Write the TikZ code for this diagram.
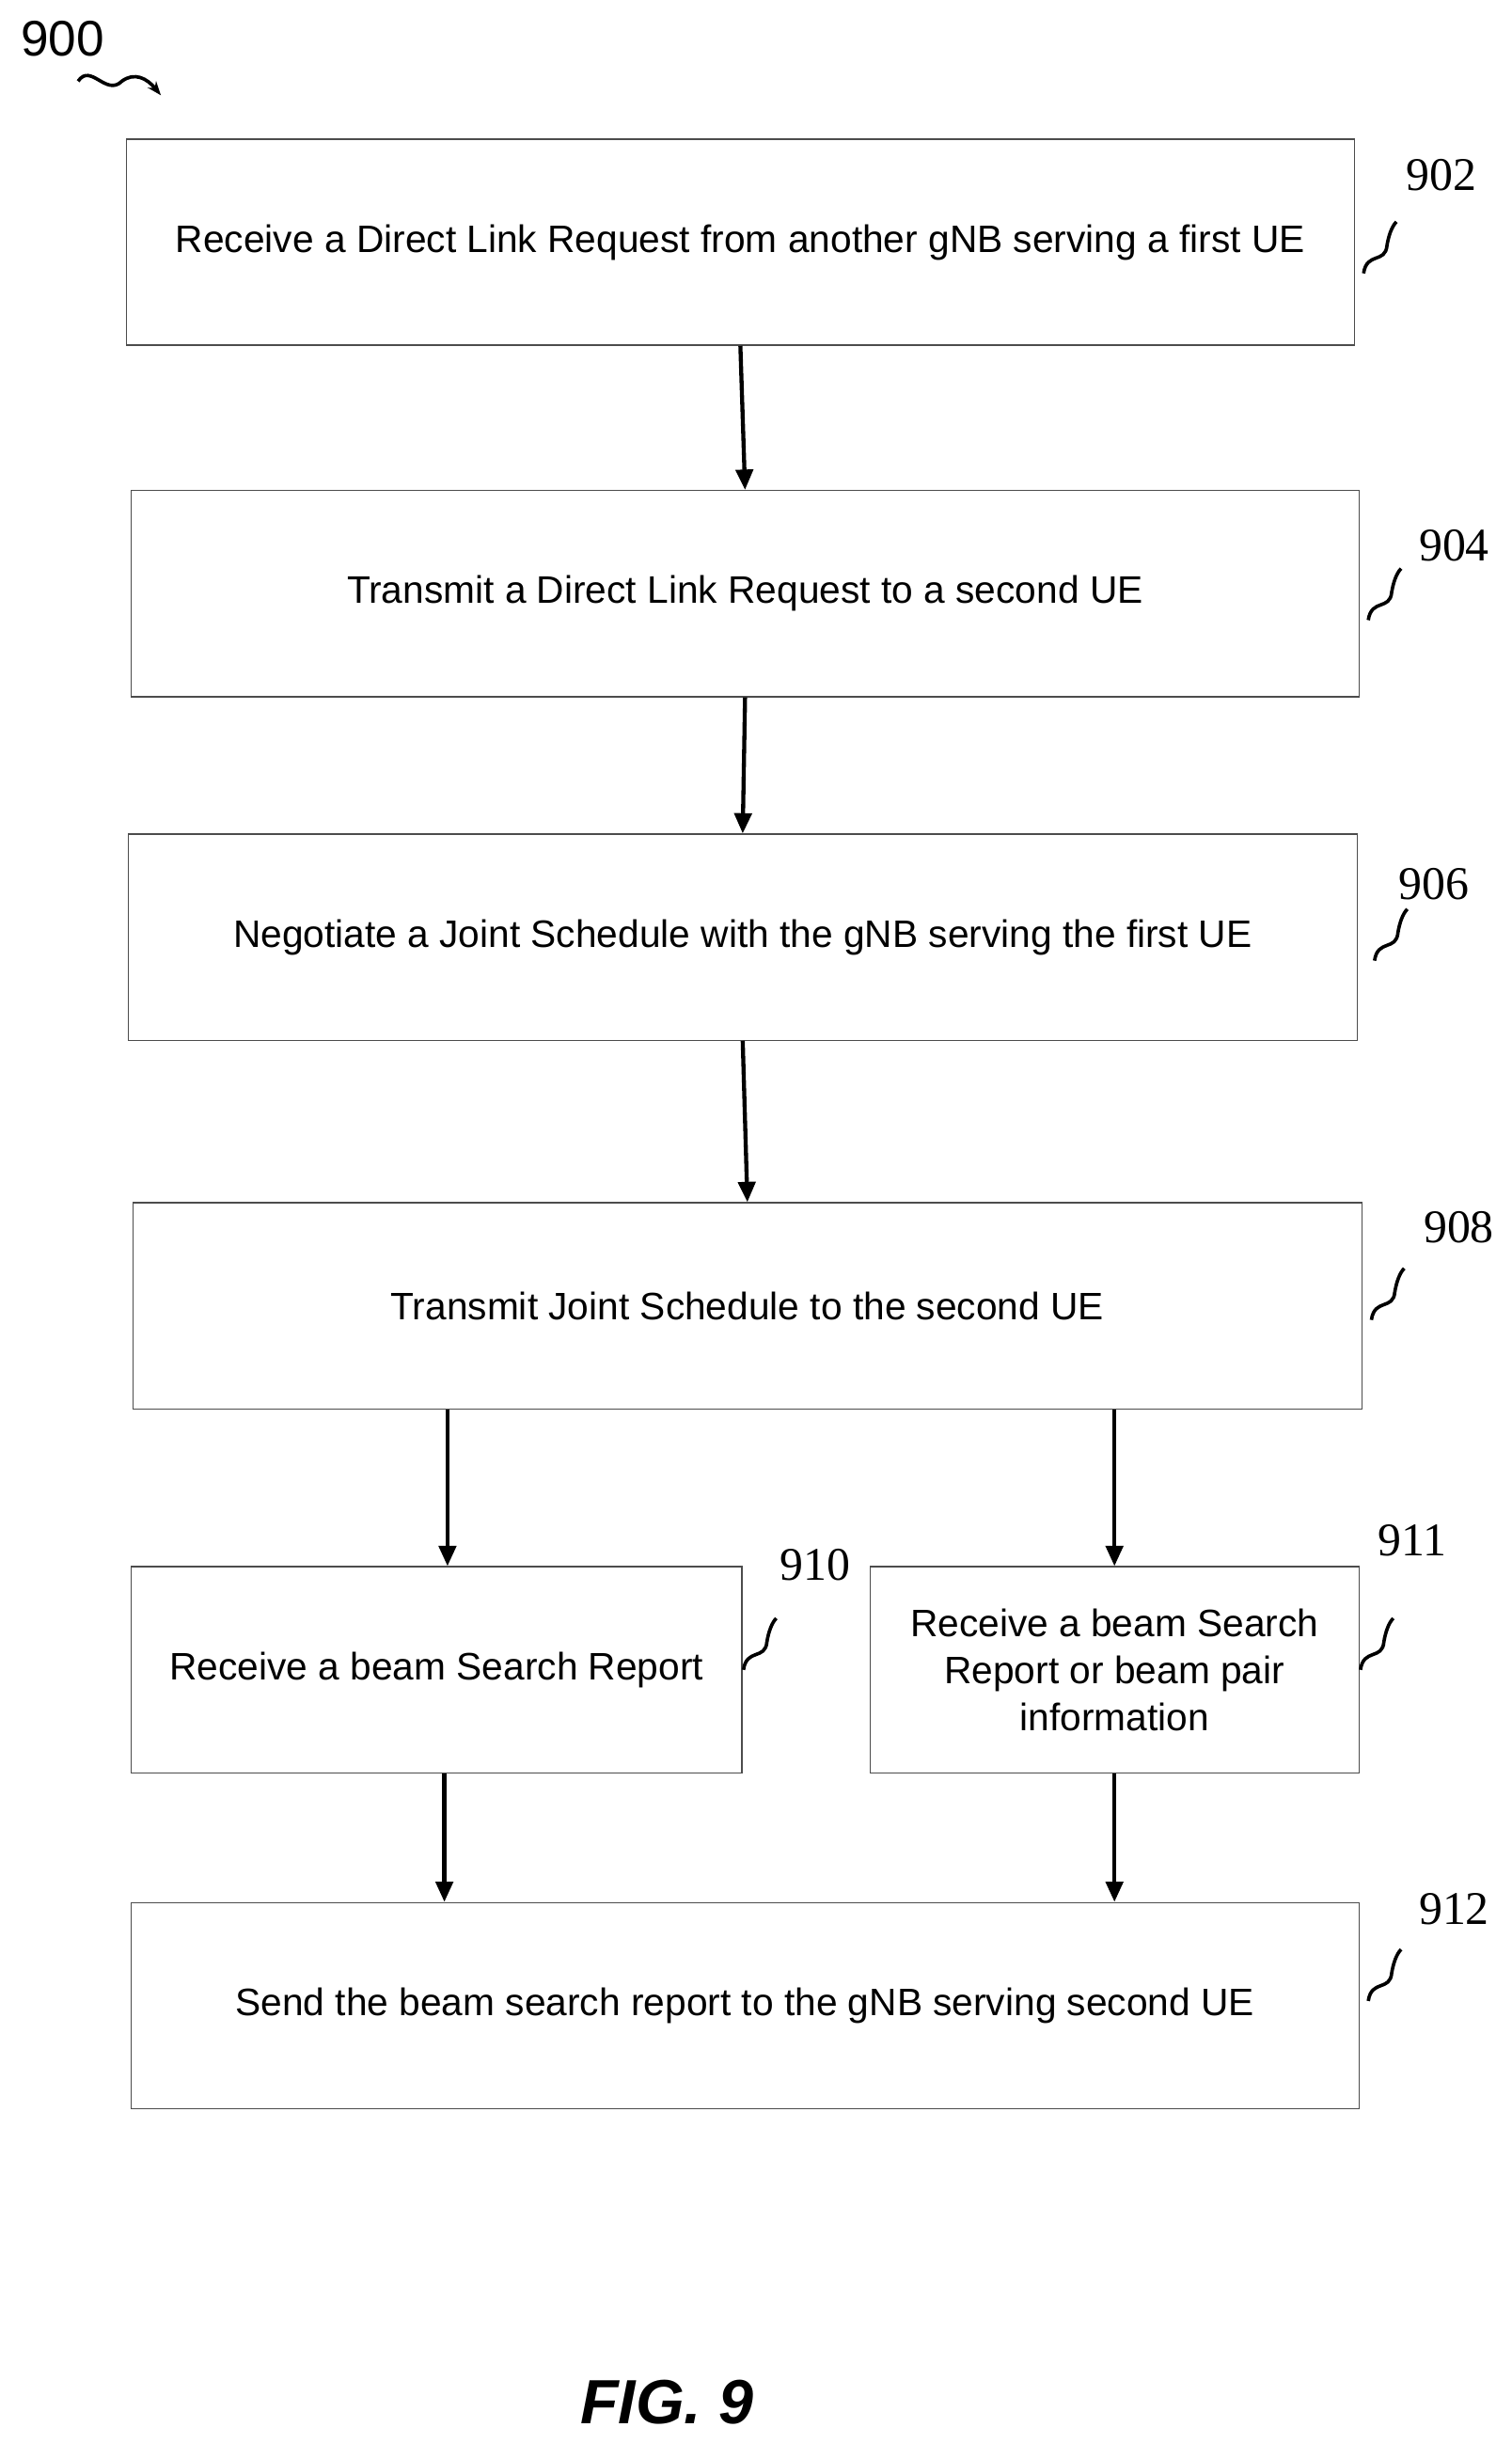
\documentclass[tikz,border=0pt]{standalone}
\usepackage{fontspec}
\setmainfont{Liberation Sans}
\newfontfamily\numfont{Liberation Serif}
\usetikzlibrary{arrows.meta}
\begin{document}
\begin{tikzpicture}[x=1pt,y=-1pt,
    stepbox/.style={draw=black!70,line width=0.8pt,align=center,font=\fontsize{24.5}{30}\selectfont,inner sep=0pt},
    flow/.style={-{Triangle[length=13pt,width=11pt]},line width=2.6pt},
    tag/.style={font=\numfont\fontsize{30}{30}\selectfont},
    squig/.style={line width=2.2pt}]
\useasboundingbox (0,0) rectangle (968,1564);
%Boxes
\node[stepbox,minimum width=786,minimum height=132] (s902) at (474,155) {Receive a Direct Link Request from another gNB serving a first UE};
\node[stepbox,minimum width=786,minimum height=132] (s904) at (477,380) {Transmit a Direct Link Request to a second UE};
\node[stepbox,minimum width=787,minimum height=132] (s906) at (475.5,600) {Negotiate a Joint Schedule with the gNB serving the first UE};
\node[stepbox,minimum width=787,minimum height=132] (s908) at (478.5,836) {Transmit Joint Schedule to the second UE};
\node[stepbox,minimum width=391,minimum height=132] (s910) at (279.5,1069) {Receive a beam Search Report};
\node[stepbox,minimum width=313,minimum height=132] (s911) at (713.5,1069) {Receive a beam Search\\Report or beam pair\\information};
\node[stepbox,minimum width=786,minimum height=132] (s912) at (477,1284) {Send the beam search report to the gNB serving second UE};
%Arrows
\coordinate (c910) at ([xshift=7pt]s910.north);
\coordinate (c912) at ([xshift=5pt]s910.south);
\draw[flow] (s902.south) -- (s904.north);
\draw[flow] (s904.south) -- (s906.north);
\draw[flow] (s906.south) -- (s908.north);
\draw[flow] (s908.south -| c910) -- (c910);
\draw[flow] (s908.south -| s911.north) -- (s911.north);
\draw[flow] (c912) -- (c912 |- s912.north);
\draw[flow] (s911.south) -- (s911.south |- s912.north);
%Labels
\node[tag] (n902) at (923,112) {902};
\node[tag] (n904) at (931,349) {904};
\node[tag] (n906) at (918,566) {906};
\node[tag] (n908) at (934,786) {908};
\node[tag] (n910) at (522,1002) {910};
\node[tag] (n911) at (904,986) {911};
\node[tag] (n912) at (931,1222) {912};
\foreach \x/\y in {873/175,876/397,880/615,878/845,476/1069,871/1069,876/1281}
  \draw[squig] (\x,\y) .. controls (\x+2,\y-14) and (\x+14,\y-6) .. (\x+15,\y-18) .. controls (\x+16,\y-24) and (\x+18,\y-30) .. (\x+21,\y-33);
\node[font=\fontsize{32}{34}\selectfont] (n900) at (40,25) {900};
\draw[squig,-{Stealth[length=9pt]}] (50,52) .. controls (58,40) and (68,62) .. (78,52) .. controls (86,46) and (94,50) .. (103,61);
\node[font=\bfseries\itshape\fontsize{40}{42}\selectfont] (fig) at (427,1538) {FIG. 9};
\end{tikzpicture}
\end{document}
